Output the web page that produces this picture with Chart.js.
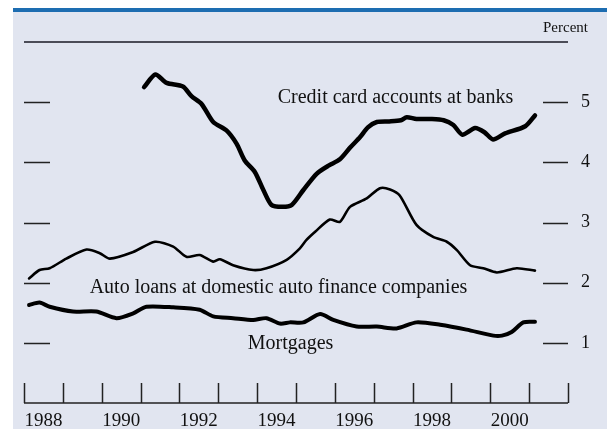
<!DOCTYPE html>
<html>
<head>
<meta charset="utf-8">
<script src="https://cdn.jsdelivr.net/npm/chart.js@4/dist/chart.umd.min.js"></script>
<style>
  body { margin: 0; background: #fff; }
  #wrap { position: relative; width: 607px; height: 429px; overflow: hidden; }
  #panel { position: absolute; left: 13px; top: 8px; right: 0; bottom: 0; background: #e1e5f0; border-top: 4px solid #1d6db1; }
  #chart { position: absolute; left: 0; top: 0; }
</style>
</head>
<body>
<div id="wrap">
  <div id="panel"></div>
  <canvas id="chart" width="607" height="429"></canvas>
</div>
<script>
// Delinquency rates, percent
const creditYears = [1991.09, 1991.38, 1991.67, 1992.09, 1992.31, 1992.57, 1992.87, 1993.21, 1993.47, 1993.68,
  1993.94, 1994.16, 1994.37, 1994.65, 1994.89, 1995.19, 1995.53, 1995.85, 1996.13, 1996.40, 1996.65, 1996.85,
  1997.08, 1997.40, 1997.70, 1997.85, 1998.10, 1998.50, 1998.80, 1999.05, 1999.28, 1999.61, 1999.85, 2000.07,
  2000.38, 2000.90, 2001.15];
const creditValues = [5.25, 5.46, 5.32, 5.26, 5.10, 4.97, 4.67, 4.53, 4.31, 4.03,
  3.84, 3.54, 3.29, 3.26, 3.29, 3.54, 3.81, 3.95, 4.05, 4.25, 4.42, 4.58,
  4.67, 4.68, 4.70, 4.75, 4.72, 4.72, 4.70, 4.62, 4.46, 4.57, 4.50, 4.38,
  4.48, 4.60, 4.78];

const autoYears = [1988.13, 1988.40, 1988.66, 1989.09, 1989.61, 1989.95, 1990.21, 1990.81, 1991.37, 1991.84,
  1992.18, 1992.52, 1992.87, 1993.04, 1993.38, 1993.90, 1994.24, 1994.76, 1995.10, 1995.27, 1995.50, 1995.87,
  1996.13, 1996.39, 1996.82, 1997.16, 1997.42, 1997.67, 1998.10, 1998.53, 1998.88, 1999.14, 1999.48, 1999.82,
  2000.17, 2000.68, 2001.15];
const autoValues = [2.07, 2.21, 2.24, 2.40, 2.55, 2.49, 2.40, 2.51, 2.68, 2.60,
  2.43, 2.46, 2.35, 2.39, 2.29, 2.21, 2.24, 2.38, 2.57, 2.71, 2.85, 3.05,
  3.01, 3.26, 3.40, 3.57, 3.55, 3.45, 2.96, 2.76, 2.68, 2.54, 2.29, 2.24,
  2.17, 2.24, 2.20];

const mortYears = [1988.13, 1988.40, 1988.66, 1989.26, 1989.86, 1990.38, 1990.81, 1991.15, 1991.84, 1992.52,
  1992.87, 1993.38, 1993.90, 1994.24, 1994.59, 1994.84, 1995.19, 1995.62, 1995.96, 1996.56, 1997.08, 1997.59,
  1998.10, 1998.71, 1999.39, 2000.08, 2000.30, 2000.55, 2000.85, 2001.15];
const mortValues = [1.63, 1.67, 1.60, 1.52, 1.52, 1.41, 1.49, 1.60, 1.59, 1.55,
  1.44, 1.41, 1.38, 1.41, 1.32, 1.34, 1.34, 1.48, 1.38, 1.27, 1.27, 1.24,
  1.34, 1.30, 1.22, 1.12, 1.12, 1.18, 1.34, 1.35];

const yearLabels = ['1988', '1990', '1992', '1994', '1996', '1998', '2000'];
const yearTicks = [1988, 1989, 1990, 1991, 1992, 1993, 1994, 1995, 1996, 1997, 1998, 1999, 2000, 2001, 2002];
const percentTicks = [1, 2, 3, 4, 5];

// series captions, placed in data units
const captions = [
  { text: 'Credit card accounts at banks', x: 1994.53, y: 5.07 },
  { text: 'Auto loans at domestic auto finance companies', x: 1989.69, y: 1.91 },
  { text: 'Mortgages', x: 1993.76, y: 0.98 }
];

const serif = '"Liberation Serif", "DejaVu Serif", serif';
const ink = '#111';

function toPoints(xs, ys) {
  return xs.map((x, i) => ({ x: x, y: ys[i] }));
}

const framePlugin = {
  id: 'frame',
  beforeDatasetsDraw(chart) {
    const ctx = chart.ctx;
    const xs = chart.scales.x;
    const ys = chart.scales.y;
    const left = xs.getPixelForValue(1988);
    const right = xs.getPixelForValue(2002);
    const base = ys.getPixelForValue(0);
    const top = ys.getPixelForValue(6);
    ctx.save();
    // top rule
    ctx.strokeStyle = '#4b4c57';
    ctx.lineWidth = 2;
    ctx.beginPath();
    ctx.moveTo(left, top);
    ctx.lineTo(right, top);
    ctx.stroke();
    // x axis line and year ticks
    ctx.strokeStyle = '#222';
    ctx.lineWidth = 1.5;
    ctx.beginPath();
    ctx.moveTo(left, base);
    ctx.lineTo(right, base);
    yearTicks.forEach(yr => {
      const px = Math.round(xs.getPixelForValue(yr)) + 0.5;
      ctx.moveTo(px, base);
      ctx.lineTo(px, base - 20);
    });
    ctx.stroke();
    // percent ticks on both sides
    ctx.lineWidth = 1.3;
    ctx.beginPath();
    percentTicks.forEach(v => {
      const py = Math.round(ys.getPixelForValue(v)) + 0.5;
      ctx.moveTo(left, py);
      ctx.lineTo(left + 26, py);
      ctx.moveTo(right - 25, py);
      ctx.lineTo(right, py);
    });
    ctx.stroke();
    // captions
    ctx.fillStyle = ink;
    ctx.font = '20px ' + serif;
    ctx.textBaseline = 'middle';
    ctx.textAlign = 'left';
    captions.forEach(c => {
      ctx.fillText(c.text, xs.getPixelForValue(c.x), ys.getPixelForValue(c.y));
    });
    ctx.font = '15px ' + serif;
    ctx.textAlign = 'right';
    ctx.fillText('Percent', right + 20, top - 14);
    ctx.restore();
  }
};

const ctx = document.getElementById('chart').getContext('2d');

new Chart(ctx, {
  type: 'line',
  data: {
    datasets: [
      { label: 'Credit card accounts at banks', data: toPoints(creditYears, creditValues), borderColor: '#000', borderWidth: 4.5 },
      { label: 'Auto loans at domestic auto finance companies', data: toPoints(autoYears, autoValues), borderColor: '#000', borderWidth: 2.6 },
      { label: 'Mortgages', data: toPoints(mortYears, mortValues), borderColor: '#000', borderWidth: 4 }
    ]
  },
  options: {
    responsive: false,
    animation: false,
    layout: { padding: { left: 24, top: 42, right: 0, bottom: 0 } },
    elements: {
      point: { radius: 0 },
      line: { tension: 0.25, borderJoinStyle: 'round', borderCapStyle: 'round', fill: false }
    },
    plugins: { legend: { display: false }, tooltip: { enabled: false } },
    scales: {
      x: {
        type: 'linear',
        min: 1988,
        max: 2002,
        grid: { display: false, drawTicks: false },
        border: { display: false },
        afterBuildTicks: s => { s.ticks = yearLabels.map(l => ({ value: Number(l) + 0.5 })); },
        afterFit: s => { s.height = 26; },
        ticks: {
          autoSkip: false,
          maxRotation: 0,
          padding: 7,
          color: ink,
          font: { family: serif, size: 19 },
          callback: (v, i) => yearLabels[i]
        }
      },
      y: {
        position: 'right',
        min: 0,
        max: 6,
        grid: { display: false, drawTicks: false },
        border: { display: false },
        afterBuildTicks: s => { s.ticks = percentTicks.map(v => ({ value: v })); },
        afterFit: s => { s.width = 39; },
        ticks: {
          padding: 13,
          color: ink,
          font: { family: serif, size: 18 },
          callback: v => String(v)
        }
      }
    }
  },
  plugins: [framePlugin]
});
</script>
</body>
</html>
